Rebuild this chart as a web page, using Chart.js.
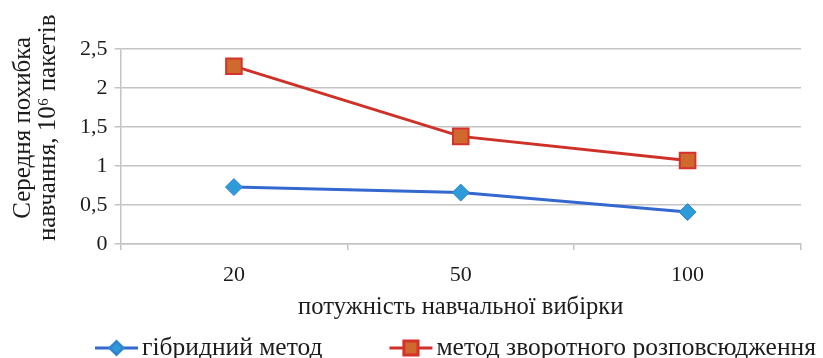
<!DOCTYPE html>
<html>
<head>
<meta charset="utf-8">
<script src="https://cdn.jsdelivr.net/npm/chart.js@4"></script>
<style>
  html, body { margin: 0; padding: 0; background: #fff; }
  #wrap { width: 823px; height: 358px; }
</style>
</head>
<body>
<div id="wrap"><canvas id="c" width="823" height="358"></canvas></div>
<script>
// Sample sizes (categories) and mean training error per method
const categories = ['20', '50', '100'];
const hybridValues = [0.73, 0.66, 0.41];
const backpropValues = [2.28, 1.38, 1.07];
const seriesNames = ['гібридний метод', 'метод зворотного розповсюдження'];
const yTicks = [0, 0.5, 1, 1.5, 2, 2.5];
const yTitle = ['Середня похибка', 'навчання, 10⁶ пакетів'];
const xTitle = 'потужність навчальної вибірки';

const FONT = '"Liberation Serif", "Times New Roman", serif';
const TEXT = '#1c1c1c';
const GRID = '#c4c4c4';

// Keeps the rotated axis title a little above the plot's middle
const lift = '\u00A0'.repeat(6);

// Legend drawn as line-with-marker swatches, read from the datasets
const lineLegend = {
  id: 'lineLegend',
  afterDraw(chart, args, opts) {
    const ctx = chart.ctx;
    ctx.save();
    ctx.font = opts.fontSize + 'px ' + FONT;
    ctx.textBaseline = 'middle';
    ctx.textAlign = 'left';
    let x = opts.x;
    const y = opts.y;
    chart.data.datasets.forEach(ds => {
      ctx.strokeStyle = ds.borderColor;
      ctx.lineWidth = 3;
      ctx.beginPath();
      ctx.moveTo(x, y);
      ctx.lineTo(x + opts.swatch, y);
      ctx.stroke();
      ctx.fillStyle = ds.pointBackgroundColor;
      ctx.strokeStyle = ds.pointBorderColor;
      Chart.helpers.drawPoint(ctx, {
        pointStyle: ds.pointStyle,
        radius: ds.legendRadius,
        borderWidth: ds.pointBorderWidth,
        rotation: 0
      }, x + opts.swatch / 2, y);
      const tx = x + opts.swatch + opts.gap;
      ctx.fillStyle = TEXT;
      ctx.fillText(ds.label, tx, y);
      x = tx + ctx.measureText(ds.label).width + opts.itemGap;
    });
    ctx.restore();
  }
};

new Chart(document.getElementById('c'), {
  type: 'line',
  plugins: [lineLegend],
  data: {
    labels: categories,
    datasets: [
      {
        label: seriesNames[0],
        data: hybridValues,
        borderColor: '#3468cf',
        pointBackgroundColor: '#2f9ad8',
        pointBorderColor: '#2f86d0',
        pointBorderWidth: 1,
        borderWidth: 3,
        pointStyle: 'rectRot',
        pointRadius: 8.5,
        legendRadius: 6.5,
        tension: 0
      },
      {
        label: seriesNames[1],
        data: backpropValues,
        borderColor: '#cf3129',
        pointBackgroundColor: '#d0692e',
        pointBorderColor: '#d4322b',
        pointBorderWidth: 2,
        borderWidth: 3,
        pointStyle: 'rect',
        pointRadius: 11,
        legendRadius: 10,
        tension: 0
      }
    ]
  },
  options: {
    responsive: false,
    animation: false,
    devicePixelRatio: 1,
    layout: { padding: { left: 11, right: 22, top: 49, bottom: 37 } },
    plugins: {
      tooltip: { enabled: false },
      legend: { display: false },
      lineLegend: { x: 95, y: 348, swatch: 43, gap: 4, itemGap: 67, fontSize: 25.5 }
    },
    scales: {
      x: {
        offset: true,
        grid: {
          offset: true,
          drawOnChartArea: false,
          drawTicks: true,
          tickLength: 6,
          color: GRID,
          lineWidth: 1.5
        },
        border: { color: GRID, width: 1.5 },
        ticks: { color: TEXT, font: { family: FONT, size: 22 }, padding: 12 },
        title: {
          display: true,
          text: xTitle,
          color: TEXT,
          font: { family: FONT, size: 24.6 },
          padding: { top: -8, bottom: -1 }
        }
      },
      y: {
        min: 0,
        max: 2.5,
        afterBuildTicks(scale) { scale.ticks = yTicks.map(v => ({ value: v })); },
        grid: {
          color: GRID,
          lineWidth: 1.5,
          drawTicks: true,
          tickLength: 6
        },
        border: { color: GRID, width: 1.5 },
        ticks: {
          color: TEXT,
          font: { family: FONT, size: 22 },
          padding: 7,
          callback: v => String(v).replace('.', ',')
        },
        title: {
          display: true,
          text: yTitle.map(t => lift + t),
          color: TEXT,
          font: { family: FONT, size: 25, lineHeight: 1.0 },
          padding: { top: 0, bottom: 12 }
        }
      }
    }
  }
});
</script>
</body>
</html>
